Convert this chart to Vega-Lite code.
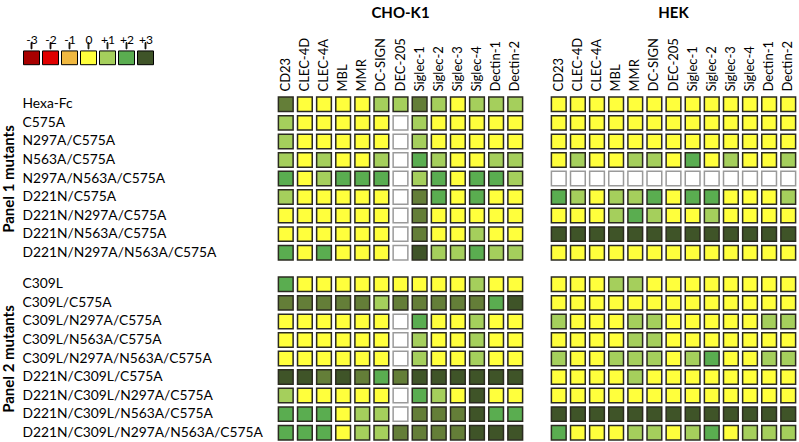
{
"$schema": "https://vega.github.io/schema/vega-lite/v6.json",
"background": "white",
"padding": {"left": 1, "top": 6, "right": 0, "bottom": 0},
"config": {"font": "Lato", "view": {"stroke": null}},
"data": {"values": [
{"cell":"CHO-K1","panel":1,"mutant":"Hexa-Fc","receptor":"CD23","score":"+2.5"},
{"cell":"CHO-K1","panel":1,"mutant":"Hexa-Fc","receptor":"CLEC-4D","score":"0"},
{"cell":"CHO-K1","panel":1,"mutant":"Hexa-Fc","receptor":"CLEC-4A","score":"0"},
{"cell":"CHO-K1","panel":1,"mutant":"Hexa-Fc","receptor":"MBL","score":"0"},
{"cell":"CHO-K1","panel":1,"mutant":"Hexa-Fc","receptor":"MMR","score":"0"},
{"cell":"CHO-K1","panel":1,"mutant":"Hexa-Fc","receptor":"DC-SIGN","score":"+1"},
{"cell":"CHO-K1","panel":1,"mutant":"Hexa-Fc","receptor":"DEC-205","score":"+1"},
{"cell":"CHO-K1","panel":1,"mutant":"Hexa-Fc","receptor":"Siglec-1","score":"+2.5"},
{"cell":"CHO-K1","panel":1,"mutant":"Hexa-Fc","receptor":"Siglec-2","score":"+1"},
{"cell":"CHO-K1","panel":1,"mutant":"Hexa-Fc","receptor":"Siglec-3","score":"0"},
{"cell":"CHO-K1","panel":1,"mutant":"Hexa-Fc","receptor":"Siglec-4","score":"+1"},
{"cell":"CHO-K1","panel":1,"mutant":"Hexa-Fc","receptor":"Dectin-1","score":"+1"},
{"cell":"CHO-K1","panel":1,"mutant":"Hexa-Fc","receptor":"Dectin-2","score":"+1"},
{"cell":"CHO-K1","panel":1,"mutant":"C575A","receptor":"CD23","score":"+1"},
{"cell":"CHO-K1","panel":1,"mutant":"C575A","receptor":"CLEC-4D","score":"0"},
{"cell":"CHO-K1","panel":1,"mutant":"C575A","receptor":"CLEC-4A","score":"0"},
{"cell":"CHO-K1","panel":1,"mutant":"C575A","receptor":"MBL","score":"0"},
{"cell":"CHO-K1","panel":1,"mutant":"C575A","receptor":"MMR","score":"0"},
{"cell":"CHO-K1","panel":1,"mutant":"C575A","receptor":"DC-SIGN","score":"0"},
{"cell":"CHO-K1","panel":1,"mutant":"C575A","receptor":"DEC-205","score":"n.d."},
{"cell":"CHO-K1","panel":1,"mutant":"C575A","receptor":"Siglec-1","score":"+1"},
{"cell":"CHO-K1","panel":1,"mutant":"C575A","receptor":"Siglec-2","score":"0"},
{"cell":"CHO-K1","panel":1,"mutant":"C575A","receptor":"Siglec-3","score":"0"},
{"cell":"CHO-K1","panel":1,"mutant":"C575A","receptor":"Siglec-4","score":"0"},
{"cell":"CHO-K1","panel":1,"mutant":"C575A","receptor":"Dectin-1","score":"0"},
{"cell":"CHO-K1","panel":1,"mutant":"C575A","receptor":"Dectin-2","score":"0"},
{"cell":"CHO-K1","panel":1,"mutant":"N297A/C575A","receptor":"CD23","score":"+1"},
{"cell":"CHO-K1","panel":1,"mutant":"N297A/C575A","receptor":"CLEC-4D","score":"0"},
{"cell":"CHO-K1","panel":1,"mutant":"N297A/C575A","receptor":"CLEC-4A","score":"0"},
{"cell":"CHO-K1","panel":1,"mutant":"N297A/C575A","receptor":"MBL","score":"0"},
{"cell":"CHO-K1","panel":1,"mutant":"N297A/C575A","receptor":"MMR","score":"0"},
{"cell":"CHO-K1","panel":1,"mutant":"N297A/C575A","receptor":"DC-SIGN","score":"0"},
{"cell":"CHO-K1","panel":1,"mutant":"N297A/C575A","receptor":"DEC-205","score":"n.d."},
{"cell":"CHO-K1","panel":1,"mutant":"N297A/C575A","receptor":"Siglec-1","score":"+1"},
{"cell":"CHO-K1","panel":1,"mutant":"N297A/C575A","receptor":"Siglec-2","score":"0"},
{"cell":"CHO-K1","panel":1,"mutant":"N297A/C575A","receptor":"Siglec-3","score":"0"},
{"cell":"CHO-K1","panel":1,"mutant":"N297A/C575A","receptor":"Siglec-4","score":"0"},
{"cell":"CHO-K1","panel":1,"mutant":"N297A/C575A","receptor":"Dectin-1","score":"0"},
{"cell":"CHO-K1","panel":1,"mutant":"N297A/C575A","receptor":"Dectin-2","score":"0"},
{"cell":"CHO-K1","panel":1,"mutant":"N563A/C575A","receptor":"CD23","score":"+1"},
{"cell":"CHO-K1","panel":1,"mutant":"N563A/C575A","receptor":"CLEC-4D","score":"0"},
{"cell":"CHO-K1","panel":1,"mutant":"N563A/C575A","receptor":"CLEC-4A","score":"+1"},
{"cell":"CHO-K1","panel":1,"mutant":"N563A/C575A","receptor":"MBL","score":"0"},
{"cell":"CHO-K1","panel":1,"mutant":"N563A/C575A","receptor":"MMR","score":"0"},
{"cell":"CHO-K1","panel":1,"mutant":"N563A/C575A","receptor":"DC-SIGN","score":"+1"},
{"cell":"CHO-K1","panel":1,"mutant":"N563A/C575A","receptor":"DEC-205","score":"n.d."},
{"cell":"CHO-K1","panel":1,"mutant":"N563A/C575A","receptor":"Siglec-1","score":"+2"},
{"cell":"CHO-K1","panel":1,"mutant":"N563A/C575A","receptor":"Siglec-2","score":"+1"},
{"cell":"CHO-K1","panel":1,"mutant":"N563A/C575A","receptor":"Siglec-3","score":"0"},
{"cell":"CHO-K1","panel":1,"mutant":"N563A/C575A","receptor":"Siglec-4","score":"0"},
{"cell":"CHO-K1","panel":1,"mutant":"N563A/C575A","receptor":"Dectin-1","score":"+1"},
{"cell":"CHO-K1","panel":1,"mutant":"N563A/C575A","receptor":"Dectin-2","score":"+1"},
{"cell":"CHO-K1","panel":1,"mutant":"N297A/N563A/C575A","receptor":"CD23","score":"+2"},
{"cell":"CHO-K1","panel":1,"mutant":"N297A/N563A/C575A","receptor":"CLEC-4D","score":"0"},
{"cell":"CHO-K1","panel":1,"mutant":"N297A/N563A/C575A","receptor":"CLEC-4A","score":"+1"},
{"cell":"CHO-K1","panel":1,"mutant":"N297A/N563A/C575A","receptor":"MBL","score":"+2"},
{"cell":"CHO-K1","panel":1,"mutant":"N297A/N563A/C575A","receptor":"MMR","score":"+2"},
{"cell":"CHO-K1","panel":1,"mutant":"N297A/N563A/C575A","receptor":"DC-SIGN","score":"+2"},
{"cell":"CHO-K1","panel":1,"mutant":"N297A/N563A/C575A","receptor":"DEC-205","score":"n.d."},
{"cell":"CHO-K1","panel":1,"mutant":"N297A/N563A/C575A","receptor":"Siglec-1","score":"+1"},
{"cell":"CHO-K1","panel":1,"mutant":"N297A/N563A/C575A","receptor":"Siglec-2","score":"+2"},
{"cell":"CHO-K1","panel":1,"mutant":"N297A/N563A/C575A","receptor":"Siglec-3","score":"0"},
{"cell":"CHO-K1","panel":1,"mutant":"N297A/N563A/C575A","receptor":"Siglec-4","score":"+2"},
{"cell":"CHO-K1","panel":1,"mutant":"N297A/N563A/C575A","receptor":"Dectin-1","score":"+2"},
{"cell":"CHO-K1","panel":1,"mutant":"N297A/N563A/C575A","receptor":"Dectin-2","score":"+1"},
{"cell":"CHO-K1","panel":1,"mutant":"D221N/C575A","receptor":"CD23","score":"+1"},
{"cell":"CHO-K1","panel":1,"mutant":"D221N/C575A","receptor":"CLEC-4D","score":"0"},
{"cell":"CHO-K1","panel":1,"mutant":"D221N/C575A","receptor":"CLEC-4A","score":"0"},
{"cell":"CHO-K1","panel":1,"mutant":"D221N/C575A","receptor":"MBL","score":"0"},
{"cell":"CHO-K1","panel":1,"mutant":"D221N/C575A","receptor":"MMR","score":"0"},
{"cell":"CHO-K1","panel":1,"mutant":"D221N/C575A","receptor":"DC-SIGN","score":"0"},
{"cell":"CHO-K1","panel":1,"mutant":"D221N/C575A","receptor":"DEC-205","score":"n.d."},
{"cell":"CHO-K1","panel":1,"mutant":"D221N/C575A","receptor":"Siglec-1","score":"+2.5"},
{"cell":"CHO-K1","panel":1,"mutant":"D221N/C575A","receptor":"Siglec-2","score":"+2"},
{"cell":"CHO-K1","panel":1,"mutant":"D221N/C575A","receptor":"Siglec-3","score":"0"},
{"cell":"CHO-K1","panel":1,"mutant":"D221N/C575A","receptor":"Siglec-4","score":"+2"},
{"cell":"CHO-K1","panel":1,"mutant":"D221N/C575A","receptor":"Dectin-1","score":"0"},
{"cell":"CHO-K1","panel":1,"mutant":"D221N/C575A","receptor":"Dectin-2","score":"0"},
{"cell":"CHO-K1","panel":1,"mutant":"D221N/N297A/C575A","receptor":"CD23","score":"0"},
{"cell":"CHO-K1","panel":1,"mutant":"D221N/N297A/C575A","receptor":"CLEC-4D","score":"0"},
{"cell":"CHO-K1","panel":1,"mutant":"D221N/N297A/C575A","receptor":"CLEC-4A","score":"0"},
{"cell":"CHO-K1","panel":1,"mutant":"D221N/N297A/C575A","receptor":"MBL","score":"0"},
{"cell":"CHO-K1","panel":1,"mutant":"D221N/N297A/C575A","receptor":"MMR","score":"0"},
{"cell":"CHO-K1","panel":1,"mutant":"D221N/N297A/C575A","receptor":"DC-SIGN","score":"0"},
{"cell":"CHO-K1","panel":1,"mutant":"D221N/N297A/C575A","receptor":"DEC-205","score":"n.d."},
{"cell":"CHO-K1","panel":1,"mutant":"D221N/N297A/C575A","receptor":"Siglec-1","score":"+2.5"},
{"cell":"CHO-K1","panel":1,"mutant":"D221N/N297A/C575A","receptor":"Siglec-2","score":"0"},
{"cell":"CHO-K1","panel":1,"mutant":"D221N/N297A/C575A","receptor":"Siglec-3","score":"0"},
{"cell":"CHO-K1","panel":1,"mutant":"D221N/N297A/C575A","receptor":"Siglec-4","score":"0"},
{"cell":"CHO-K1","panel":1,"mutant":"D221N/N297A/C575A","receptor":"Dectin-1","score":"0"},
{"cell":"CHO-K1","panel":1,"mutant":"D221N/N297A/C575A","receptor":"Dectin-2","score":"0"},
{"cell":"CHO-K1","panel":1,"mutant":"D221N/N563A/C575A","receptor":"CD23","score":"0"},
{"cell":"CHO-K1","panel":1,"mutant":"D221N/N563A/C575A","receptor":"CLEC-4D","score":"0"},
{"cell":"CHO-K1","panel":1,"mutant":"D221N/N563A/C575A","receptor":"CLEC-4A","score":"0"},
{"cell":"CHO-K1","panel":1,"mutant":"D221N/N563A/C575A","receptor":"MBL","score":"0"},
{"cell":"CHO-K1","panel":1,"mutant":"D221N/N563A/C575A","receptor":"MMR","score":"0"},
{"cell":"CHO-K1","panel":1,"mutant":"D221N/N563A/C575A","receptor":"DC-SIGN","score":"0"},
{"cell":"CHO-K1","panel":1,"mutant":"D221N/N563A/C575A","receptor":"DEC-205","score":"n.d."},
{"cell":"CHO-K1","panel":1,"mutant":"D221N/N563A/C575A","receptor":"Siglec-1","score":"+2.5"},
{"cell":"CHO-K1","panel":1,"mutant":"D221N/N563A/C575A","receptor":"Siglec-2","score":"0"},
{"cell":"CHO-K1","panel":1,"mutant":"D221N/N563A/C575A","receptor":"Siglec-3","score":"0"},
{"cell":"CHO-K1","panel":1,"mutant":"D221N/N563A/C575A","receptor":"Siglec-4","score":"+1"},
{"cell":"CHO-K1","panel":1,"mutant":"D221N/N563A/C575A","receptor":"Dectin-1","score":"0"},
{"cell":"CHO-K1","panel":1,"mutant":"D221N/N563A/C575A","receptor":"Dectin-2","score":"0"},
{"cell":"CHO-K1","panel":1,"mutant":"D221N/N297A/N563A/C575A","receptor":"CD23","score":"+2"},
{"cell":"CHO-K1","panel":1,"mutant":"D221N/N297A/N563A/C575A","receptor":"CLEC-4D","score":"0"},
{"cell":"CHO-K1","panel":1,"mutant":"D221N/N297A/N563A/C575A","receptor":"CLEC-4A","score":"+2"},
{"cell":"CHO-K1","panel":1,"mutant":"D221N/N297A/N563A/C575A","receptor":"MBL","score":"0"},
{"cell":"CHO-K1","panel":1,"mutant":"D221N/N297A/N563A/C575A","receptor":"MMR","score":"0"},
{"cell":"CHO-K1","panel":1,"mutant":"D221N/N297A/N563A/C575A","receptor":"DC-SIGN","score":"0"},
{"cell":"CHO-K1","panel":1,"mutant":"D221N/N297A/N563A/C575A","receptor":"DEC-205","score":"n.d."},
{"cell":"CHO-K1","panel":1,"mutant":"D221N/N297A/N563A/C575A","receptor":"Siglec-1","score":"+3"},
{"cell":"CHO-K1","panel":1,"mutant":"D221N/N297A/N563A/C575A","receptor":"Siglec-2","score":"+1"},
{"cell":"CHO-K1","panel":1,"mutant":"D221N/N297A/N563A/C575A","receptor":"Siglec-3","score":"+1"},
{"cell":"CHO-K1","panel":1,"mutant":"D221N/N297A/N563A/C575A","receptor":"Siglec-4","score":"+2"},
{"cell":"CHO-K1","panel":1,"mutant":"D221N/N297A/N563A/C575A","receptor":"Dectin-1","score":"+1"},
{"cell":"CHO-K1","panel":1,"mutant":"D221N/N297A/N563A/C575A","receptor":"Dectin-2","score":"+1"},
{"cell":"CHO-K1","panel":2,"mutant":"C309L","receptor":"CD23","score":"+2"},
{"cell":"CHO-K1","panel":2,"mutant":"C309L","receptor":"CLEC-4D","score":"0"},
{"cell":"CHO-K1","panel":2,"mutant":"C309L","receptor":"CLEC-4A","score":"0"},
{"cell":"CHO-K1","panel":2,"mutant":"C309L","receptor":"MBL","score":"0"},
{"cell":"CHO-K1","panel":2,"mutant":"C309L","receptor":"MMR","score":"0"},
{"cell":"CHO-K1","panel":2,"mutant":"C309L","receptor":"DC-SIGN","score":"0"},
{"cell":"CHO-K1","panel":2,"mutant":"C309L","receptor":"DEC-205","score":"0"},
{"cell":"CHO-K1","panel":2,"mutant":"C309L","receptor":"Siglec-1","score":"0"},
{"cell":"CHO-K1","panel":2,"mutant":"C309L","receptor":"Siglec-2","score":"0"},
{"cell":"CHO-K1","panel":2,"mutant":"C309L","receptor":"Siglec-3","score":"0"},
{"cell":"CHO-K1","panel":2,"mutant":"C309L","receptor":"Siglec-4","score":"+1"},
{"cell":"CHO-K1","panel":2,"mutant":"C309L","receptor":"Dectin-1","score":"0"},
{"cell":"CHO-K1","panel":2,"mutant":"C309L","receptor":"Dectin-2","score":"0"},
{"cell":"CHO-K1","panel":2,"mutant":"C309L/C575A","receptor":"CD23","score":"+2.5"},
{"cell":"CHO-K1","panel":2,"mutant":"C309L/C575A","receptor":"CLEC-4D","score":"+2.5"},
{"cell":"CHO-K1","panel":2,"mutant":"C309L/C575A","receptor":"CLEC-4A","score":"+2.5"},
{"cell":"CHO-K1","panel":2,"mutant":"C309L/C575A","receptor":"MBL","score":"+2.5"},
{"cell":"CHO-K1","panel":2,"mutant":"C309L/C575A","receptor":"MMR","score":"+2.5"},
{"cell":"CHO-K1","panel":2,"mutant":"C309L/C575A","receptor":"DC-SIGN","score":"+1"},
{"cell":"CHO-K1","panel":2,"mutant":"C309L/C575A","receptor":"DEC-205","score":"+2.5"},
{"cell":"CHO-K1","panel":2,"mutant":"C309L/C575A","receptor":"Siglec-1","score":"+2.5"},
{"cell":"CHO-K1","panel":2,"mutant":"C309L/C575A","receptor":"Siglec-2","score":"+2.5"},
{"cell":"CHO-K1","panel":2,"mutant":"C309L/C575A","receptor":"Siglec-3","score":"+2.5"},
{"cell":"CHO-K1","panel":2,"mutant":"C309L/C575A","receptor":"Siglec-4","score":"+2.5"},
{"cell":"CHO-K1","panel":2,"mutant":"C309L/C575A","receptor":"Dectin-1","score":"+2"},
{"cell":"CHO-K1","panel":2,"mutant":"C309L/C575A","receptor":"Dectin-2","score":"+3"},
{"cell":"CHO-K1","panel":2,"mutant":"C309L/N297A/C575A","receptor":"CD23","score":"0"},
{"cell":"CHO-K1","panel":2,"mutant":"C309L/N297A/C575A","receptor":"CLEC-4D","score":"0"},
{"cell":"CHO-K1","panel":2,"mutant":"C309L/N297A/C575A","receptor":"CLEC-4A","score":"0"},
{"cell":"CHO-K1","panel":2,"mutant":"C309L/N297A/C575A","receptor":"MBL","score":"0"},
{"cell":"CHO-K1","panel":2,"mutant":"C309L/N297A/C575A","receptor":"MMR","score":"0"},
{"cell":"CHO-K1","panel":2,"mutant":"C309L/N297A/C575A","receptor":"DC-SIGN","score":"0"},
{"cell":"CHO-K1","panel":2,"mutant":"C309L/N297A/C575A","receptor":"DEC-205","score":"n.d."},
{"cell":"CHO-K1","panel":2,"mutant":"C309L/N297A/C575A","receptor":"Siglec-1","score":"+2"},
{"cell":"CHO-K1","panel":2,"mutant":"C309L/N297A/C575A","receptor":"Siglec-2","score":"0"},
{"cell":"CHO-K1","panel":2,"mutant":"C309L/N297A/C575A","receptor":"Siglec-3","score":"0"},
{"cell":"CHO-K1","panel":2,"mutant":"C309L/N297A/C575A","receptor":"Siglec-4","score":"+1"},
{"cell":"CHO-K1","panel":2,"mutant":"C309L/N297A/C575A","receptor":"Dectin-1","score":"0"},
{"cell":"CHO-K1","panel":2,"mutant":"C309L/N297A/C575A","receptor":"Dectin-2","score":"0"},
{"cell":"CHO-K1","panel":2,"mutant":"C309L/N563A/C575A","receptor":"CD23","score":"0"},
{"cell":"CHO-K1","panel":2,"mutant":"C309L/N563A/C575A","receptor":"CLEC-4D","score":"0"},
{"cell":"CHO-K1","panel":2,"mutant":"C309L/N563A/C575A","receptor":"CLEC-4A","score":"0"},
{"cell":"CHO-K1","panel":2,"mutant":"C309L/N563A/C575A","receptor":"MBL","score":"0"},
{"cell":"CHO-K1","panel":2,"mutant":"C309L/N563A/C575A","receptor":"MMR","score":"0"},
{"cell":"CHO-K1","panel":2,"mutant":"C309L/N563A/C575A","receptor":"DC-SIGN","score":"0"},
{"cell":"CHO-K1","panel":2,"mutant":"C309L/N563A/C575A","receptor":"DEC-205","score":"n.d."},
{"cell":"CHO-K1","panel":2,"mutant":"C309L/N563A/C575A","receptor":"Siglec-1","score":"+1"},
{"cell":"CHO-K1","panel":2,"mutant":"C309L/N563A/C575A","receptor":"Siglec-2","score":"0"},
{"cell":"CHO-K1","panel":2,"mutant":"C309L/N563A/C575A","receptor":"Siglec-3","score":"0"},
{"cell":"CHO-K1","panel":2,"mutant":"C309L/N563A/C575A","receptor":"Siglec-4","score":"+1"},
{"cell":"CHO-K1","panel":2,"mutant":"C309L/N563A/C575A","receptor":"Dectin-1","score":"0"},
{"cell":"CHO-K1","panel":2,"mutant":"C309L/N563A/C575A","receptor":"Dectin-2","score":"0"},
{"cell":"CHO-K1","panel":2,"mutant":"C309L/N297A/N563A/C575A","receptor":"CD23","score":"0"},
{"cell":"CHO-K1","panel":2,"mutant":"C309L/N297A/N563A/C575A","receptor":"CLEC-4D","score":"0"},
{"cell":"CHO-K1","panel":2,"mutant":"C309L/N297A/N563A/C575A","receptor":"CLEC-4A","score":"0"},
{"cell":"CHO-K1","panel":2,"mutant":"C309L/N297A/N563A/C575A","receptor":"MBL","score":"0"},
{"cell":"CHO-K1","panel":2,"mutant":"C309L/N297A/N563A/C575A","receptor":"MMR","score":"0"},
{"cell":"CHO-K1","panel":2,"mutant":"C309L/N297A/N563A/C575A","receptor":"DC-SIGN","score":"0"},
{"cell":"CHO-K1","panel":2,"mutant":"C309L/N297A/N563A/C575A","receptor":"DEC-205","score":"n.d."},
{"cell":"CHO-K1","panel":2,"mutant":"C309L/N297A/N563A/C575A","receptor":"Siglec-1","score":"+1"},
{"cell":"CHO-K1","panel":2,"mutant":"C309L/N297A/N563A/C575A","receptor":"Siglec-2","score":"0"},
{"cell":"CHO-K1","panel":2,"mutant":"C309L/N297A/N563A/C575A","receptor":"Siglec-3","score":"0"},
{"cell":"CHO-K1","panel":2,"mutant":"C309L/N297A/N563A/C575A","receptor":"Siglec-4","score":"+1"},
{"cell":"CHO-K1","panel":2,"mutant":"C309L/N297A/N563A/C575A","receptor":"Dectin-1","score":"0"},
{"cell":"CHO-K1","panel":2,"mutant":"C309L/N297A/N563A/C575A","receptor":"Dectin-2","score":"0"},
{"cell":"CHO-K1","panel":2,"mutant":"D221N/C309L/C575A","receptor":"CD23","score":"+3"},
{"cell":"CHO-K1","panel":2,"mutant":"D221N/C309L/C575A","receptor":"CLEC-4D","score":"+3"},
{"cell":"CHO-K1","panel":2,"mutant":"D221N/C309L/C575A","receptor":"CLEC-4A","score":"+2.5"},
{"cell":"CHO-K1","panel":2,"mutant":"D221N/C309L/C575A","receptor":"MBL","score":"+3"},
{"cell":"CHO-K1","panel":2,"mutant":"D221N/C309L/C575A","receptor":"MMR","score":"+2.5"},
{"cell":"CHO-K1","panel":2,"mutant":"D221N/C309L/C575A","receptor":"DC-SIGN","score":"+2"},
{"cell":"CHO-K1","panel":2,"mutant":"D221N/C309L/C575A","receptor":"DEC-205","score":"+2.5"},
{"cell":"CHO-K1","panel":2,"mutant":"D221N/C309L/C575A","receptor":"Siglec-1","score":"+3"},
{"cell":"CHO-K1","panel":2,"mutant":"D221N/C309L/C575A","receptor":"Siglec-2","score":"+3"},
{"cell":"CHO-K1","panel":2,"mutant":"D221N/C309L/C575A","receptor":"Siglec-3","score":"+3"},
{"cell":"CHO-K1","panel":2,"mutant":"D221N/C309L/C575A","receptor":"Siglec-4","score":"+3"},
{"cell":"CHO-K1","panel":2,"mutant":"D221N/C309L/C575A","receptor":"Dectin-1","score":"+3"},
{"cell":"CHO-K1","panel":2,"mutant":"D221N/C309L/C575A","receptor":"Dectin-2","score":"+3"},
{"cell":"CHO-K1","panel":2,"mutant":"D221N/C309L/N297A/C575A","receptor":"CD23","score":"+1"},
{"cell":"CHO-K1","panel":2,"mutant":"D221N/C309L/N297A/C575A","receptor":"CLEC-4D","score":"0"},
{"cell":"CHO-K1","panel":2,"mutant":"D221N/C309L/N297A/C575A","receptor":"CLEC-4A","score":"0"},
{"cell":"CHO-K1","panel":2,"mutant":"D221N/C309L/N297A/C575A","receptor":"MBL","score":"0"},
{"cell":"CHO-K1","panel":2,"mutant":"D221N/C309L/N297A/C575A","receptor":"MMR","score":"0"},
{"cell":"CHO-K1","panel":2,"mutant":"D221N/C309L/N297A/C575A","receptor":"DC-SIGN","score":"0"},
{"cell":"CHO-K1","panel":2,"mutant":"D221N/C309L/N297A/C575A","receptor":"DEC-205","score":"n.d."},
{"cell":"CHO-K1","panel":2,"mutant":"D221N/C309L/N297A/C575A","receptor":"Siglec-1","score":"+2"},
{"cell":"CHO-K1","panel":2,"mutant":"D221N/C309L/N297A/C575A","receptor":"Siglec-2","score":"+1"},
{"cell":"CHO-K1","panel":2,"mutant":"D221N/C309L/N297A/C575A","receptor":"Siglec-3","score":"0"},
{"cell":"CHO-K1","panel":2,"mutant":"D221N/C309L/N297A/C575A","receptor":"Siglec-4","score":"+3"},
{"cell":"CHO-K1","panel":2,"mutant":"D221N/C309L/N297A/C575A","receptor":"Dectin-1","score":"0"},
{"cell":"CHO-K1","panel":2,"mutant":"D221N/C309L/N297A/C575A","receptor":"Dectin-2","score":"0"},
{"cell":"CHO-K1","panel":2,"mutant":"D221N/C309L/N563A/C575A","receptor":"CD23","score":"+2"},
{"cell":"CHO-K1","panel":2,"mutant":"D221N/C309L/N563A/C575A","receptor":"CLEC-4D","score":"+2"},
{"cell":"CHO-K1","panel":2,"mutant":"D221N/C309L/N563A/C575A","receptor":"CLEC-4A","score":"+2"},
{"cell":"CHO-K1","panel":2,"mutant":"D221N/C309L/N563A/C575A","receptor":"MBL","score":"0"},
{"cell":"CHO-K1","panel":2,"mutant":"D221N/C309L/N563A/C575A","receptor":"MMR","score":"+1"},
{"cell":"CHO-K1","panel":2,"mutant":"D221N/C309L/N563A/C575A","receptor":"DC-SIGN","score":"+1"},
{"cell":"CHO-K1","panel":2,"mutant":"D221N/C309L/N563A/C575A","receptor":"DEC-205","score":"n.d."},
{"cell":"CHO-K1","panel":2,"mutant":"D221N/C309L/N563A/C575A","receptor":"Siglec-1","score":"+2.5"},
{"cell":"CHO-K1","panel":2,"mutant":"D221N/C309L/N563A/C575A","receptor":"Siglec-2","score":"+2.5"},
{"cell":"CHO-K1","panel":2,"mutant":"D221N/C309L/N563A/C575A","receptor":"Siglec-3","score":"+2.5"},
{"cell":"CHO-K1","panel":2,"mutant":"D221N/C309L/N563A/C575A","receptor":"Siglec-4","score":"+3"},
{"cell":"CHO-K1","panel":2,"mutant":"D221N/C309L/N563A/C575A","receptor":"Dectin-1","score":"+2"},
{"cell":"CHO-K1","panel":2,"mutant":"D221N/C309L/N563A/C575A","receptor":"Dectin-2","score":"+2"},
{"cell":"CHO-K1","panel":2,"mutant":"D221N/C309L/N297A/N563A/C575A","receptor":"CD23","score":"+2"},
{"cell":"CHO-K1","panel":2,"mutant":"D221N/C309L/N297A/N563A/C575A","receptor":"CLEC-4D","score":"+2"},
{"cell":"CHO-K1","panel":2,"mutant":"D221N/C309L/N297A/N563A/C575A","receptor":"CLEC-4A","score":"+2"},
{"cell":"CHO-K1","panel":2,"mutant":"D221N/C309L/N297A/N563A/C575A","receptor":"MBL","score":"0"},
{"cell":"CHO-K1","panel":2,"mutant":"D221N/C309L/N297A/N563A/C575A","receptor":"MMR","score":"+1"},
{"cell":"CHO-K1","panel":2,"mutant":"D221N/C309L/N297A/N563A/C575A","receptor":"DC-SIGN","score":"+1"},
{"cell":"CHO-K1","panel":2,"mutant":"D221N/C309L/N297A/N563A/C575A","receptor":"DEC-205","score":"+2.5"},
{"cell":"CHO-K1","panel":2,"mutant":"D221N/C309L/N297A/N563A/C575A","receptor":"Siglec-1","score":"+2.5"},
{"cell":"CHO-K1","panel":2,"mutant":"D221N/C309L/N297A/N563A/C575A","receptor":"Siglec-2","score":"+2.5"},
{"cell":"CHO-K1","panel":2,"mutant":"D221N/C309L/N297A/N563A/C575A","receptor":"Siglec-3","score":"+2.5"},
{"cell":"CHO-K1","panel":2,"mutant":"D221N/C309L/N297A/N563A/C575A","receptor":"Siglec-4","score":"+3"},
{"cell":"CHO-K1","panel":2,"mutant":"D221N/C309L/N297A/N563A/C575A","receptor":"Dectin-1","score":"+3"},
{"cell":"CHO-K1","panel":2,"mutant":"D221N/C309L/N297A/N563A/C575A","receptor":"Dectin-2","score":"+3"},
{"cell":"HEK","panel":1,"mutant":"Hexa-Fc","receptor":"CD23","score":"0"},
{"cell":"HEK","panel":1,"mutant":"Hexa-Fc","receptor":"CLEC-4D","score":"0"},
{"cell":"HEK","panel":1,"mutant":"Hexa-Fc","receptor":"CLEC-4A","score":"0"},
{"cell":"HEK","panel":1,"mutant":"Hexa-Fc","receptor":"MBL","score":"0"},
{"cell":"HEK","panel":1,"mutant":"Hexa-Fc","receptor":"MMR","score":"0"},
{"cell":"HEK","panel":1,"mutant":"Hexa-Fc","receptor":"DC-SIGN","score":"0"},
{"cell":"HEK","panel":1,"mutant":"Hexa-Fc","receptor":"DEC-205","score":"0"},
{"cell":"HEK","panel":1,"mutant":"Hexa-Fc","receptor":"Siglec-1","score":"0"},
{"cell":"HEK","panel":1,"mutant":"Hexa-Fc","receptor":"Siglec-2","score":"0"},
{"cell":"HEK","panel":1,"mutant":"Hexa-Fc","receptor":"Siglec-3","score":"0"},
{"cell":"HEK","panel":1,"mutant":"Hexa-Fc","receptor":"Siglec-4","score":"0"},
{"cell":"HEK","panel":1,"mutant":"Hexa-Fc","receptor":"Dectin-1","score":"0"},
{"cell":"HEK","panel":1,"mutant":"Hexa-Fc","receptor":"Dectin-2","score":"0"},
{"cell":"HEK","panel":1,"mutant":"C575A","receptor":"CD23","score":"0"},
{"cell":"HEK","panel":1,"mutant":"C575A","receptor":"CLEC-4D","score":"0"},
{"cell":"HEK","panel":1,"mutant":"C575A","receptor":"CLEC-4A","score":"0"},
{"cell":"HEK","panel":1,"mutant":"C575A","receptor":"MBL","score":"0"},
{"cell":"HEK","panel":1,"mutant":"C575A","receptor":"MMR","score":"0"},
{"cell":"HEK","panel":1,"mutant":"C575A","receptor":"DC-SIGN","score":"0"},
{"cell":"HEK","panel":1,"mutant":"C575A","receptor":"DEC-205","score":"0"},
{"cell":"HEK","panel":1,"mutant":"C575A","receptor":"Siglec-1","score":"0"},
{"cell":"HEK","panel":1,"mutant":"C575A","receptor":"Siglec-2","score":"0"},
{"cell":"HEK","panel":1,"mutant":"C575A","receptor":"Siglec-3","score":"0"},
{"cell":"HEK","panel":1,"mutant":"C575A","receptor":"Siglec-4","score":"0"},
{"cell":"HEK","panel":1,"mutant":"C575A","receptor":"Dectin-1","score":"0"},
{"cell":"HEK","panel":1,"mutant":"C575A","receptor":"Dectin-2","score":"0"},
{"cell":"HEK","panel":1,"mutant":"N297A/C575A","receptor":"CD23","score":"0"},
{"cell":"HEK","panel":1,"mutant":"N297A/C575A","receptor":"CLEC-4D","score":"0"},
{"cell":"HEK","panel":1,"mutant":"N297A/C575A","receptor":"CLEC-4A","score":"0"},
{"cell":"HEK","panel":1,"mutant":"N297A/C575A","receptor":"MBL","score":"0"},
{"cell":"HEK","panel":1,"mutant":"N297A/C575A","receptor":"MMR","score":"0"},
{"cell":"HEK","panel":1,"mutant":"N297A/C575A","receptor":"DC-SIGN","score":"0"},
{"cell":"HEK","panel":1,"mutant":"N297A/C575A","receptor":"DEC-205","score":"0"},
{"cell":"HEK","panel":1,"mutant":"N297A/C575A","receptor":"Siglec-1","score":"0"},
{"cell":"HEK","panel":1,"mutant":"N297A/C575A","receptor":"Siglec-2","score":"0"},
{"cell":"HEK","panel":1,"mutant":"N297A/C575A","receptor":"Siglec-3","score":"0"},
{"cell":"HEK","panel":1,"mutant":"N297A/C575A","receptor":"Siglec-4","score":"0"},
{"cell":"HEK","panel":1,"mutant":"N297A/C575A","receptor":"Dectin-1","score":"0"},
{"cell":"HEK","panel":1,"mutant":"N297A/C575A","receptor":"Dectin-2","score":"0"},
{"cell":"HEK","panel":1,"mutant":"N563A/C575A","receptor":"CD23","score":"0"},
{"cell":"HEK","panel":1,"mutant":"N563A/C575A","receptor":"CLEC-4D","score":"+1"},
{"cell":"HEK","panel":1,"mutant":"N563A/C575A","receptor":"CLEC-4A","score":"0"},
{"cell":"HEK","panel":1,"mutant":"N563A/C575A","receptor":"MBL","score":"0"},
{"cell":"HEK","panel":1,"mutant":"N563A/C575A","receptor":"MMR","score":"+1"},
{"cell":"HEK","panel":1,"mutant":"N563A/C575A","receptor":"DC-SIGN","score":"+1"},
{"cell":"HEK","panel":1,"mutant":"N563A/C575A","receptor":"DEC-205","score":"0"},
{"cell":"HEK","panel":1,"mutant":"N563A/C575A","receptor":"Siglec-1","score":"+2"},
{"cell":"HEK","panel":1,"mutant":"N563A/C575A","receptor":"Siglec-2","score":"0"},
{"cell":"HEK","panel":1,"mutant":"N563A/C575A","receptor":"Siglec-3","score":"+1"},
{"cell":"HEK","panel":1,"mutant":"N563A/C575A","receptor":"Siglec-4","score":"0"},
{"cell":"HEK","panel":1,"mutant":"N563A/C575A","receptor":"Dectin-1","score":"0"},
{"cell":"HEK","panel":1,"mutant":"N563A/C575A","receptor":"Dectin-2","score":"+1"},
{"cell":"HEK","panel":1,"mutant":"N297A/N563A/C575A","receptor":"CD23","score":"n.d."},
{"cell":"HEK","panel":1,"mutant":"N297A/N563A/C575A","receptor":"CLEC-4D","score":"n.d."},
{"cell":"HEK","panel":1,"mutant":"N297A/N563A/C575A","receptor":"CLEC-4A","score":"n.d."},
{"cell":"HEK","panel":1,"mutant":"N297A/N563A/C575A","receptor":"MBL","score":"n.d."},
{"cell":"HEK","panel":1,"mutant":"N297A/N563A/C575A","receptor":"MMR","score":"n.d."},
{"cell":"HEK","panel":1,"mutant":"N297A/N563A/C575A","receptor":"DC-SIGN","score":"n.d."},
{"cell":"HEK","panel":1,"mutant":"N297A/N563A/C575A","receptor":"DEC-205","score":"n.d."},
{"cell":"HEK","panel":1,"mutant":"N297A/N563A/C575A","receptor":"Siglec-1","score":"n.d."},
{"cell":"HEK","panel":1,"mutant":"N297A/N563A/C575A","receptor":"Siglec-2","score":"n.d."},
{"cell":"HEK","panel":1,"mutant":"N297A/N563A/C575A","receptor":"Siglec-3","score":"n.d."},
{"cell":"HEK","panel":1,"mutant":"N297A/N563A/C575A","receptor":"Siglec-4","score":"n.d."},
{"cell":"HEK","panel":1,"mutant":"N297A/N563A/C575A","receptor":"Dectin-1","score":"n.d."},
{"cell":"HEK","panel":1,"mutant":"N297A/N563A/C575A","receptor":"Dectin-2","score":"n.d."},
{"cell":"HEK","panel":1,"mutant":"D221N/C575A","receptor":"CD23","score":"+2"},
{"cell":"HEK","panel":1,"mutant":"D221N/C575A","receptor":"CLEC-4D","score":"+1"},
{"cell":"HEK","panel":1,"mutant":"D221N/C575A","receptor":"CLEC-4A","score":"0"},
{"cell":"HEK","panel":1,"mutant":"D221N/C575A","receptor":"MBL","score":"+1"},
{"cell":"HEK","panel":1,"mutant":"D221N/C575A","receptor":"MMR","score":"+1"},
{"cell":"HEK","panel":1,"mutant":"D221N/C575A","receptor":"DC-SIGN","score":"+2"},
{"cell":"HEK","panel":1,"mutant":"D221N/C575A","receptor":"DEC-205","score":"0"},
{"cell":"HEK","panel":1,"mutant":"D221N/C575A","receptor":"Siglec-1","score":"+2"},
{"cell":"HEK","panel":1,"mutant":"D221N/C575A","receptor":"Siglec-2","score":"+2"},
{"cell":"HEK","panel":1,"mutant":"D221N/C575A","receptor":"Siglec-3","score":"0"},
{"cell":"HEK","panel":1,"mutant":"D221N/C575A","receptor":"Siglec-4","score":"0"},
{"cell":"HEK","panel":1,"mutant":"D221N/C575A","receptor":"Dectin-1","score":"0"},
{"cell":"HEK","panel":1,"mutant":"D221N/C575A","receptor":"Dectin-2","score":"+1"},
{"cell":"HEK","panel":1,"mutant":"D221N/N297A/C575A","receptor":"CD23","score":"0"},
{"cell":"HEK","panel":1,"mutant":"D221N/N297A/C575A","receptor":"CLEC-4D","score":"0"},
{"cell":"HEK","panel":1,"mutant":"D221N/N297A/C575A","receptor":"CLEC-4A","score":"0"},
{"cell":"HEK","panel":1,"mutant":"D221N/N297A/C575A","receptor":"MBL","score":"+1"},
{"cell":"HEK","panel":1,"mutant":"D221N/N297A/C575A","receptor":"MMR","score":"+2"},
{"cell":"HEK","panel":1,"mutant":"D221N/N297A/C575A","receptor":"DC-SIGN","score":"+1"},
{"cell":"HEK","panel":1,"mutant":"D221N/N297A/C575A","receptor":"DEC-205","score":"0"},
{"cell":"HEK","panel":1,"mutant":"D221N/N297A/C575A","receptor":"Siglec-1","score":"0"},
{"cell":"HEK","panel":1,"mutant":"D221N/N297A/C575A","receptor":"Siglec-2","score":"+1"},
{"cell":"HEK","panel":1,"mutant":"D221N/N297A/C575A","receptor":"Siglec-3","score":"0"},
{"cell":"HEK","panel":1,"mutant":"D221N/N297A/C575A","receptor":"Siglec-4","score":"0"},
{"cell":"HEK","panel":1,"mutant":"D221N/N297A/C575A","receptor":"Dectin-1","score":"0"},
{"cell":"HEK","panel":1,"mutant":"D221N/N297A/C575A","receptor":"Dectin-2","score":"0"},
{"cell":"HEK","panel":1,"mutant":"D221N/N563A/C575A","receptor":"CD23","score":"+3"},
{"cell":"HEK","panel":1,"mutant":"D221N/N563A/C575A","receptor":"CLEC-4D","score":"+3"},
{"cell":"HEK","panel":1,"mutant":"D221N/N563A/C575A","receptor":"CLEC-4A","score":"+3"},
{"cell":"HEK","panel":1,"mutant":"D221N/N563A/C575A","receptor":"MBL","score":"+3"},
{"cell":"HEK","panel":1,"mutant":"D221N/N563A/C575A","receptor":"MMR","score":"+3"},
{"cell":"HEK","panel":1,"mutant":"D221N/N563A/C575A","receptor":"DC-SIGN","score":"+3"},
{"cell":"HEK","panel":1,"mutant":"D221N/N563A/C575A","receptor":"DEC-205","score":"+3"},
{"cell":"HEK","panel":1,"mutant":"D221N/N563A/C575A","receptor":"Siglec-1","score":"+3"},
{"cell":"HEK","panel":1,"mutant":"D221N/N563A/C575A","receptor":"Siglec-2","score":"+3"},
{"cell":"HEK","panel":1,"mutant":"D221N/N563A/C575A","receptor":"Siglec-3","score":"+3"},
{"cell":"HEK","panel":1,"mutant":"D221N/N563A/C575A","receptor":"Siglec-4","score":"+3"},
{"cell":"HEK","panel":1,"mutant":"D221N/N563A/C575A","receptor":"Dectin-1","score":"+3"},
{"cell":"HEK","panel":1,"mutant":"D221N/N563A/C575A","receptor":"Dectin-2","score":"+3"},
{"cell":"HEK","panel":1,"mutant":"D221N/N297A/N563A/C575A","receptor":"CD23","score":"0"},
{"cell":"HEK","panel":1,"mutant":"D221N/N297A/N563A/C575A","receptor":"CLEC-4D","score":"0"},
{"cell":"HEK","panel":1,"mutant":"D221N/N297A/N563A/C575A","receptor":"CLEC-4A","score":"0"},
{"cell":"HEK","panel":1,"mutant":"D221N/N297A/N563A/C575A","receptor":"MBL","score":"0"},
{"cell":"HEK","panel":1,"mutant":"D221N/N297A/N563A/C575A","receptor":"MMR","score":"0"},
{"cell":"HEK","panel":1,"mutant":"D221N/N297A/N563A/C575A","receptor":"DC-SIGN","score":"0"},
{"cell":"HEK","panel":1,"mutant":"D221N/N297A/N563A/C575A","receptor":"DEC-205","score":"0"},
{"cell":"HEK","panel":1,"mutant":"D221N/N297A/N563A/C575A","receptor":"Siglec-1","score":"0"},
{"cell":"HEK","panel":1,"mutant":"D221N/N297A/N563A/C575A","receptor":"Siglec-2","score":"0"},
{"cell":"HEK","panel":1,"mutant":"D221N/N297A/N563A/C575A","receptor":"Siglec-3","score":"0"},
{"cell":"HEK","panel":1,"mutant":"D221N/N297A/N563A/C575A","receptor":"Siglec-4","score":"0"},
{"cell":"HEK","panel":1,"mutant":"D221N/N297A/N563A/C575A","receptor":"Dectin-1","score":"0"},
{"cell":"HEK","panel":1,"mutant":"D221N/N297A/N563A/C575A","receptor":"Dectin-2","score":"0"},
{"cell":"HEK","panel":2,"mutant":"C309L","receptor":"CD23","score":"0"},
{"cell":"HEK","panel":2,"mutant":"C309L","receptor":"CLEC-4D","score":"0"},
{"cell":"HEK","panel":2,"mutant":"C309L","receptor":"CLEC-4A","score":"0"},
{"cell":"HEK","panel":2,"mutant":"C309L","receptor":"MBL","score":"+1"},
{"cell":"HEK","panel":2,"mutant":"C309L","receptor":"MMR","score":"+1"},
{"cell":"HEK","panel":2,"mutant":"C309L","receptor":"DC-SIGN","score":"0"},
{"cell":"HEK","panel":2,"mutant":"C309L","receptor":"DEC-205","score":"0"},
{"cell":"HEK","panel":2,"mutant":"C309L","receptor":"Siglec-1","score":"0"},
{"cell":"HEK","panel":2,"mutant":"C309L","receptor":"Siglec-2","score":"0"},
{"cell":"HEK","panel":2,"mutant":"C309L","receptor":"Siglec-3","score":"0"},
{"cell":"HEK","panel":2,"mutant":"C309L","receptor":"Siglec-4","score":"0"},
{"cell":"HEK","panel":2,"mutant":"C309L","receptor":"Dectin-1","score":"0"},
{"cell":"HEK","panel":2,"mutant":"C309L","receptor":"Dectin-2","score":"0"},
{"cell":"HEK","panel":2,"mutant":"C309L/C575A","receptor":"CD23","score":"0"},
{"cell":"HEK","panel":2,"mutant":"C309L/C575A","receptor":"CLEC-4D","score":"0"},
{"cell":"HEK","panel":2,"mutant":"C309L/C575A","receptor":"CLEC-4A","score":"0"},
{"cell":"HEK","panel":2,"mutant":"C309L/C575A","receptor":"MBL","score":"0"},
{"cell":"HEK","panel":2,"mutant":"C309L/C575A","receptor":"MMR","score":"0"},
{"cell":"HEK","panel":2,"mutant":"C309L/C575A","receptor":"DC-SIGN","score":"0"},
{"cell":"HEK","panel":2,"mutant":"C309L/C575A","receptor":"DEC-205","score":"0"},
{"cell":"HEK","panel":2,"mutant":"C309L/C575A","receptor":"Siglec-1","score":"0"},
{"cell":"HEK","panel":2,"mutant":"C309L/C575A","receptor":"Siglec-2","score":"0"},
{"cell":"HEK","panel":2,"mutant":"C309L/C575A","receptor":"Siglec-3","score":"0"},
{"cell":"HEK","panel":2,"mutant":"C309L/C575A","receptor":"Siglec-4","score":"0"},
{"cell":"HEK","panel":2,"mutant":"C309L/C575A","receptor":"Dectin-1","score":"0"},
{"cell":"HEK","panel":2,"mutant":"C309L/C575A","receptor":"Dectin-2","score":"0"},
{"cell":"HEK","panel":2,"mutant":"C309L/N297A/C575A","receptor":"CD23","score":"+1"},
{"cell":"HEK","panel":2,"mutant":"C309L/N297A/C575A","receptor":"CLEC-4D","score":"0"},
{"cell":"HEK","panel":2,"mutant":"C309L/N297A/C575A","receptor":"CLEC-4A","score":"0"},
{"cell":"HEK","panel":2,"mutant":"C309L/N297A/C575A","receptor":"MBL","score":"0"},
{"cell":"HEK","panel":2,"mutant":"C309L/N297A/C575A","receptor":"MMR","score":"+1"},
{"cell":"HEK","panel":2,"mutant":"C309L/N297A/C575A","receptor":"DC-SIGN","score":"+1"},
{"cell":"HEK","panel":2,"mutant":"C309L/N297A/C575A","receptor":"DEC-205","score":"0"},
{"cell":"HEK","panel":2,"mutant":"C309L/N297A/C575A","receptor":"Siglec-1","score":"0"},
{"cell":"HEK","panel":2,"mutant":"C309L/N297A/C575A","receptor":"Siglec-2","score":"0"},
{"cell":"HEK","panel":2,"mutant":"C309L/N297A/C575A","receptor":"Siglec-3","score":"0"},
{"cell":"HEK","panel":2,"mutant":"C309L/N297A/C575A","receptor":"Siglec-4","score":"0"},
{"cell":"HEK","panel":2,"mutant":"C309L/N297A/C575A","receptor":"Dectin-1","score":"+1"},
{"cell":"HEK","panel":2,"mutant":"C309L/N297A/C575A","receptor":"Dectin-2","score":"+1"},
{"cell":"HEK","panel":2,"mutant":"C309L/N563A/C575A","receptor":"CD23","score":"0"},
{"cell":"HEK","panel":2,"mutant":"C309L/N563A/C575A","receptor":"CLEC-4D","score":"0"},
{"cell":"HEK","panel":2,"mutant":"C309L/N563A/C575A","receptor":"CLEC-4A","score":"0"},
{"cell":"HEK","panel":2,"mutant":"C309L/N563A/C575A","receptor":"MBL","score":"0"},
{"cell":"HEK","panel":2,"mutant":"C309L/N563A/C575A","receptor":"MMR","score":"+1"},
{"cell":"HEK","panel":2,"mutant":"C309L/N563A/C575A","receptor":"DC-SIGN","score":"+1"},
{"cell":"HEK","panel":2,"mutant":"C309L/N563A/C575A","receptor":"DEC-205","score":"0"},
{"cell":"HEK","panel":2,"mutant":"C309L/N563A/C575A","receptor":"Siglec-1","score":"0"},
{"cell":"HEK","panel":2,"mutant":"C309L/N563A/C575A","receptor":"Siglec-2","score":"0"},
{"cell":"HEK","panel":2,"mutant":"C309L/N563A/C575A","receptor":"Siglec-3","score":"0"},
{"cell":"HEK","panel":2,"mutant":"C309L/N563A/C575A","receptor":"Siglec-4","score":"0"},
{"cell":"HEK","panel":2,"mutant":"C309L/N563A/C575A","receptor":"Dectin-1","score":"0"},
{"cell":"HEK","panel":2,"mutant":"C309L/N563A/C575A","receptor":"Dectin-2","score":"0"},
{"cell":"HEK","panel":2,"mutant":"C309L/N297A/N563A/C575A","receptor":"CD23","score":"+1"},
{"cell":"HEK","panel":2,"mutant":"C309L/N297A/N563A/C575A","receptor":"CLEC-4D","score":"0"},
{"cell":"HEK","panel":2,"mutant":"C309L/N297A/N563A/C575A","receptor":"CLEC-4A","score":"0"},
{"cell":"HEK","panel":2,"mutant":"C309L/N297A/N563A/C575A","receptor":"MBL","score":"+1"},
{"cell":"HEK","panel":2,"mutant":"C309L/N297A/N563A/C575A","receptor":"MMR","score":"+1"},
{"cell":"HEK","panel":2,"mutant":"C309L/N297A/N563A/C575A","receptor":"DC-SIGN","score":"+1"},
{"cell":"HEK","panel":2,"mutant":"C309L/N297A/N563A/C575A","receptor":"DEC-205","score":"0"},
{"cell":"HEK","panel":2,"mutant":"C309L/N297A/N563A/C575A","receptor":"Siglec-1","score":"+1"},
{"cell":"HEK","panel":2,"mutant":"C309L/N297A/N563A/C575A","receptor":"Siglec-2","score":"+2"},
{"cell":"HEK","panel":2,"mutant":"C309L/N297A/N563A/C575A","receptor":"Siglec-3","score":"0"},
{"cell":"HEK","panel":2,"mutant":"C309L/N297A/N563A/C575A","receptor":"Siglec-4","score":"0"},
{"cell":"HEK","panel":2,"mutant":"C309L/N297A/N563A/C575A","receptor":"Dectin-1","score":"+1"},
{"cell":"HEK","panel":2,"mutant":"C309L/N297A/N563A/C575A","receptor":"Dectin-2","score":"+1"},
{"cell":"HEK","panel":2,"mutant":"D221N/C309L/C575A","receptor":"CD23","score":"0"},
{"cell":"HEK","panel":2,"mutant":"D221N/C309L/C575A","receptor":"CLEC-4D","score":"0"},
{"cell":"HEK","panel":2,"mutant":"D221N/C309L/C575A","receptor":"CLEC-4A","score":"0"},
{"cell":"HEK","panel":2,"mutant":"D221N/C309L/C575A","receptor":"MBL","score":"0"},
{"cell":"HEK","panel":2,"mutant":"D221N/C309L/C575A","receptor":"MMR","score":"+1"},
{"cell":"HEK","panel":2,"mutant":"D221N/C309L/C575A","receptor":"DC-SIGN","score":"0"},
{"cell":"HEK","panel":2,"mutant":"D221N/C309L/C575A","receptor":"DEC-205","score":"0"},
{"cell":"HEK","panel":2,"mutant":"D221N/C309L/C575A","receptor":"Siglec-1","score":"0"},
{"cell":"HEK","panel":2,"mutant":"D221N/C309L/C575A","receptor":"Siglec-2","score":"0"},
{"cell":"HEK","panel":2,"mutant":"D221N/C309L/C575A","receptor":"Siglec-3","score":"0"},
{"cell":"HEK","panel":2,"mutant":"D221N/C309L/C575A","receptor":"Siglec-4","score":"0"},
{"cell":"HEK","panel":2,"mutant":"D221N/C309L/C575A","receptor":"Dectin-1","score":"0"},
{"cell":"HEK","panel":2,"mutant":"D221N/C309L/C575A","receptor":"Dectin-2","score":"0"},
{"cell":"HEK","panel":2,"mutant":"D221N/C309L/N297A/C575A","receptor":"CD23","score":"0"},
{"cell":"HEK","panel":2,"mutant":"D221N/C309L/N297A/C575A","receptor":"CLEC-4D","score":"0"},
{"cell":"HEK","panel":2,"mutant":"D221N/C309L/N297A/C575A","receptor":"CLEC-4A","score":"0"},
{"cell":"HEK","panel":2,"mutant":"D221N/C309L/N297A/C575A","receptor":"MBL","score":"0"},
{"cell":"HEK","panel":2,"mutant":"D221N/C309L/N297A/C575A","receptor":"MMR","score":"0"},
{"cell":"HEK","panel":2,"mutant":"D221N/C309L/N297A/C575A","receptor":"DC-SIGN","score":"0"},
{"cell":"HEK","panel":2,"mutant":"D221N/C309L/N297A/C575A","receptor":"DEC-205","score":"0"},
{"cell":"HEK","panel":2,"mutant":"D221N/C309L/N297A/C575A","receptor":"Siglec-1","score":"0"},
{"cell":"HEK","panel":2,"mutant":"D221N/C309L/N297A/C575A","receptor":"Siglec-2","score":"0"},
{"cell":"HEK","panel":2,"mutant":"D221N/C309L/N297A/C575A","receptor":"Siglec-3","score":"0"},
{"cell":"HEK","panel":2,"mutant":"D221N/C309L/N297A/C575A","receptor":"Siglec-4","score":"0"},
{"cell":"HEK","panel":2,"mutant":"D221N/C309L/N297A/C575A","receptor":"Dectin-1","score":"0"},
{"cell":"HEK","panel":2,"mutant":"D221N/C309L/N297A/C575A","receptor":"Dectin-2","score":"0"},
{"cell":"HEK","panel":2,"mutant":"D221N/C309L/N563A/C575A","receptor":"CD23","score":"+3"},
{"cell":"HEK","panel":2,"mutant":"D221N/C309L/N563A/C575A","receptor":"CLEC-4D","score":"+3"},
{"cell":"HEK","panel":2,"mutant":"D221N/C309L/N563A/C575A","receptor":"CLEC-4A","score":"+3"},
{"cell":"HEK","panel":2,"mutant":"D221N/C309L/N563A/C575A","receptor":"MBL","score":"+3"},
{"cell":"HEK","panel":2,"mutant":"D221N/C309L/N563A/C575A","receptor":"MMR","score":"+3"},
{"cell":"HEK","panel":2,"mutant":"D221N/C309L/N563A/C575A","receptor":"DC-SIGN","score":"+3"},
{"cell":"HEK","panel":2,"mutant":"D221N/C309L/N563A/C575A","receptor":"DEC-205","score":"+3"},
{"cell":"HEK","panel":2,"mutant":"D221N/C309L/N563A/C575A","receptor":"Siglec-1","score":"+3"},
{"cell":"HEK","panel":2,"mutant":"D221N/C309L/N563A/C575A","receptor":"Siglec-2","score":"+3"},
{"cell":"HEK","panel":2,"mutant":"D221N/C309L/N563A/C575A","receptor":"Siglec-3","score":"+3"},
{"cell":"HEK","panel":2,"mutant":"D221N/C309L/N563A/C575A","receptor":"Siglec-4","score":"+3"},
{"cell":"HEK","panel":2,"mutant":"D221N/C309L/N563A/C575A","receptor":"Dectin-1","score":"+3"},
{"cell":"HEK","panel":2,"mutant":"D221N/C309L/N563A/C575A","receptor":"Dectin-2","score":"+3"},
{"cell":"HEK","panel":2,"mutant":"D221N/C309L/N297A/N563A/C575A","receptor":"CD23","score":"+2"},
{"cell":"HEK","panel":2,"mutant":"D221N/C309L/N297A/N563A/C575A","receptor":"CLEC-4D","score":"0"},
{"cell":"HEK","panel":2,"mutant":"D221N/C309L/N297A/N563A/C575A","receptor":"CLEC-4A","score":"0"},
{"cell":"HEK","panel":2,"mutant":"D221N/C309L/N297A/N563A/C575A","receptor":"MBL","score":"0"},
{"cell":"HEK","panel":2,"mutant":"D221N/C309L/N297A/N563A/C575A","receptor":"MMR","score":"+1"},
{"cell":"HEK","panel":2,"mutant":"D221N/C309L/N297A/N563A/C575A","receptor":"DC-SIGN","score":"+1"},
{"cell":"HEK","panel":2,"mutant":"D221N/C309L/N297A/N563A/C575A","receptor":"DEC-205","score":"0"},
{"cell":"HEK","panel":2,"mutant":"D221N/C309L/N297A/N563A/C575A","receptor":"Siglec-1","score":"+1"},
{"cell":"HEK","panel":2,"mutant":"D221N/C309L/N297A/N563A/C575A","receptor":"Siglec-2","score":"+2"},
{"cell":"HEK","panel":2,"mutant":"D221N/C309L/N297A/N563A/C575A","receptor":"Siglec-3","score":"0"},
{"cell":"HEK","panel":2,"mutant":"D221N/C309L/N297A/N563A/C575A","receptor":"Siglec-4","score":"+1"},
{"cell":"HEK","panel":2,"mutant":"D221N/C309L/N297A/N563A/C575A","receptor":"Dectin-1","score":"+1"},
{"cell":"HEK","panel":2,"mutant":"D221N/C309L/N297A/N563A/C575A","receptor":"Dectin-2","score":"+1"}
]},
"vconcat": [
 {
  "transform": [{"filter": "datum.panel === 1"}],
  "facet": {"column": {"field": "cell", "type": "nominal", "title": null,
    "header": {"labelOrient": "top", "labelFont": "Lato", "labelFontWeight": "bold", "labelFontSize": 15, "labelColor": "#000", "labelPadding": 16}}},
  "spacing": 20,
  "spec": {
    "width": 253,
    "height": 171,
    "mark": {"type": "rect", "strokeWidth": 1.5},
    "encoding": {
      "x": {"field": "receptor", "type": "nominal", "sort": null, "title": null,
        "scale": {"padding": 0.23},
        "axis": {"orient": "top", "labelAngle": -90, "labelAlign": "left", "labelBaseline": "middle", "labelPadding": 2, "ticks": false, "domain": false, "labelFont": "Lato", "labelFontSize": 13, "labelColor": "#000"}},
      "y": {"field": "mutant", "type": "nominal", "sort": null, "title": "Panel 1 mutants",
        "scale": {"padding": 0.22},
        "axis": {"orient": "left", "labelAlign": "left", "labelPadding": 252, "ticks": false, "domain": false, "labelFont": "Lato", "labelFontSize": 13.8, "labelColor": "#000", "labelLimit": 300,
          "titleFont": "Lato", "titleFontWeight": "bold", "titleFontSize": 15, "titleColor": "#000", "titleX": -258, "titleY": 85.5, "titleAngle": -90, "titleAlign": "center", "titleBaseline": "bottom"}},
      "color": {"field": "score", "type": "nominal",
        "scale": {"domain": ["-3","-2","-1","0","+1","+2","+2.5","+3","n.d."],
                  "range": ["#a80000","#e00000","#f0b840","#ffff3c","#a5cf5c","#5aad50","#647e38","#3f5428","#ffffff"]},
        "legend": {"orient": "none", "legendX": -251, "legendY": -44, "direction": "horizontal", "columns": 7, "title": null,
          "values": ["-3","-2","-1","0","+1","+2","+3"],
          "symbolType": "M-1,-0.86H1V0.86H-1Z M-0.05,-1.12H0.05V-1.9H-0.05Z", "symbolSize": 256, "symbolStrokeColor": "#000", "symbolStrokeWidth": 1, "symbolOpacity": 1,
          "columnPadding": -10, "labelOffset": -8, "labelAlign": "center", "labelBaseline": "alphabetic", "labelFont": "Lato", "labelFontSize": 12, "labelColor": "#000",
          "encode": {"labels": {"update": {"dy": {"value": -14}}}}}},
      "stroke": {"condition": {"test": "datum.score === 'n.d.'", "value": "#9a9a9a"}, "value": "#2b2b20"}
    }
  }
 },
 {
  "transform": [{"filter": "datum.panel === 2"}],
  "facet": {"column": {"field": "cell", "type": "nominal", "title": null, "header": {"labels": false}}},
  "spacing": 20,
  "spec": {
    "width": 253,
    "height": 171,
    "mark": {"type": "rect", "strokeWidth": 1.5},
    "encoding": {
      "x": {"field": "receptor", "type": "nominal", "sort": null, "title": null,
        "scale": {"padding": 0.23}, "axis": null},
      "y": {"field": "mutant", "type": "nominal", "sort": null, "title": "Panel 2 mutants",
        "scale": {"padding": 0.22},
        "axis": {"orient": "left", "labelAlign": "left", "labelPadding": 252, "ticks": false, "domain": false, "labelFont": "Lato", "labelFontSize": 13.8, "labelColor": "#000", "labelLimit": 300,
          "titleFont": "Lato", "titleFontWeight": "bold", "titleFontSize": 15, "titleColor": "#000", "titleX": -258, "titleY": 85.5, "titleAngle": -90, "titleAlign": "center", "titleBaseline": "bottom"}},
      "color": {"field": "score", "type": "nominal",
        "scale": {"domain": ["-3","-2","-1","0","+1","+2","+2.5","+3","n.d."],
                  "range": ["#a80000","#e00000","#f0b840","#ffff3c","#a5cf5c","#5aad50","#647e38","#3f5428","#ffffff"]}},
      "stroke": {"condition": {"test": "datum.score === 'n.d.'", "value": "#9a9a9a"}, "value": "#2b2b20"}
    }
  }
 }
],
"spacing": 9,
"resolve": {"scale": {"y": "independent"}}
}
